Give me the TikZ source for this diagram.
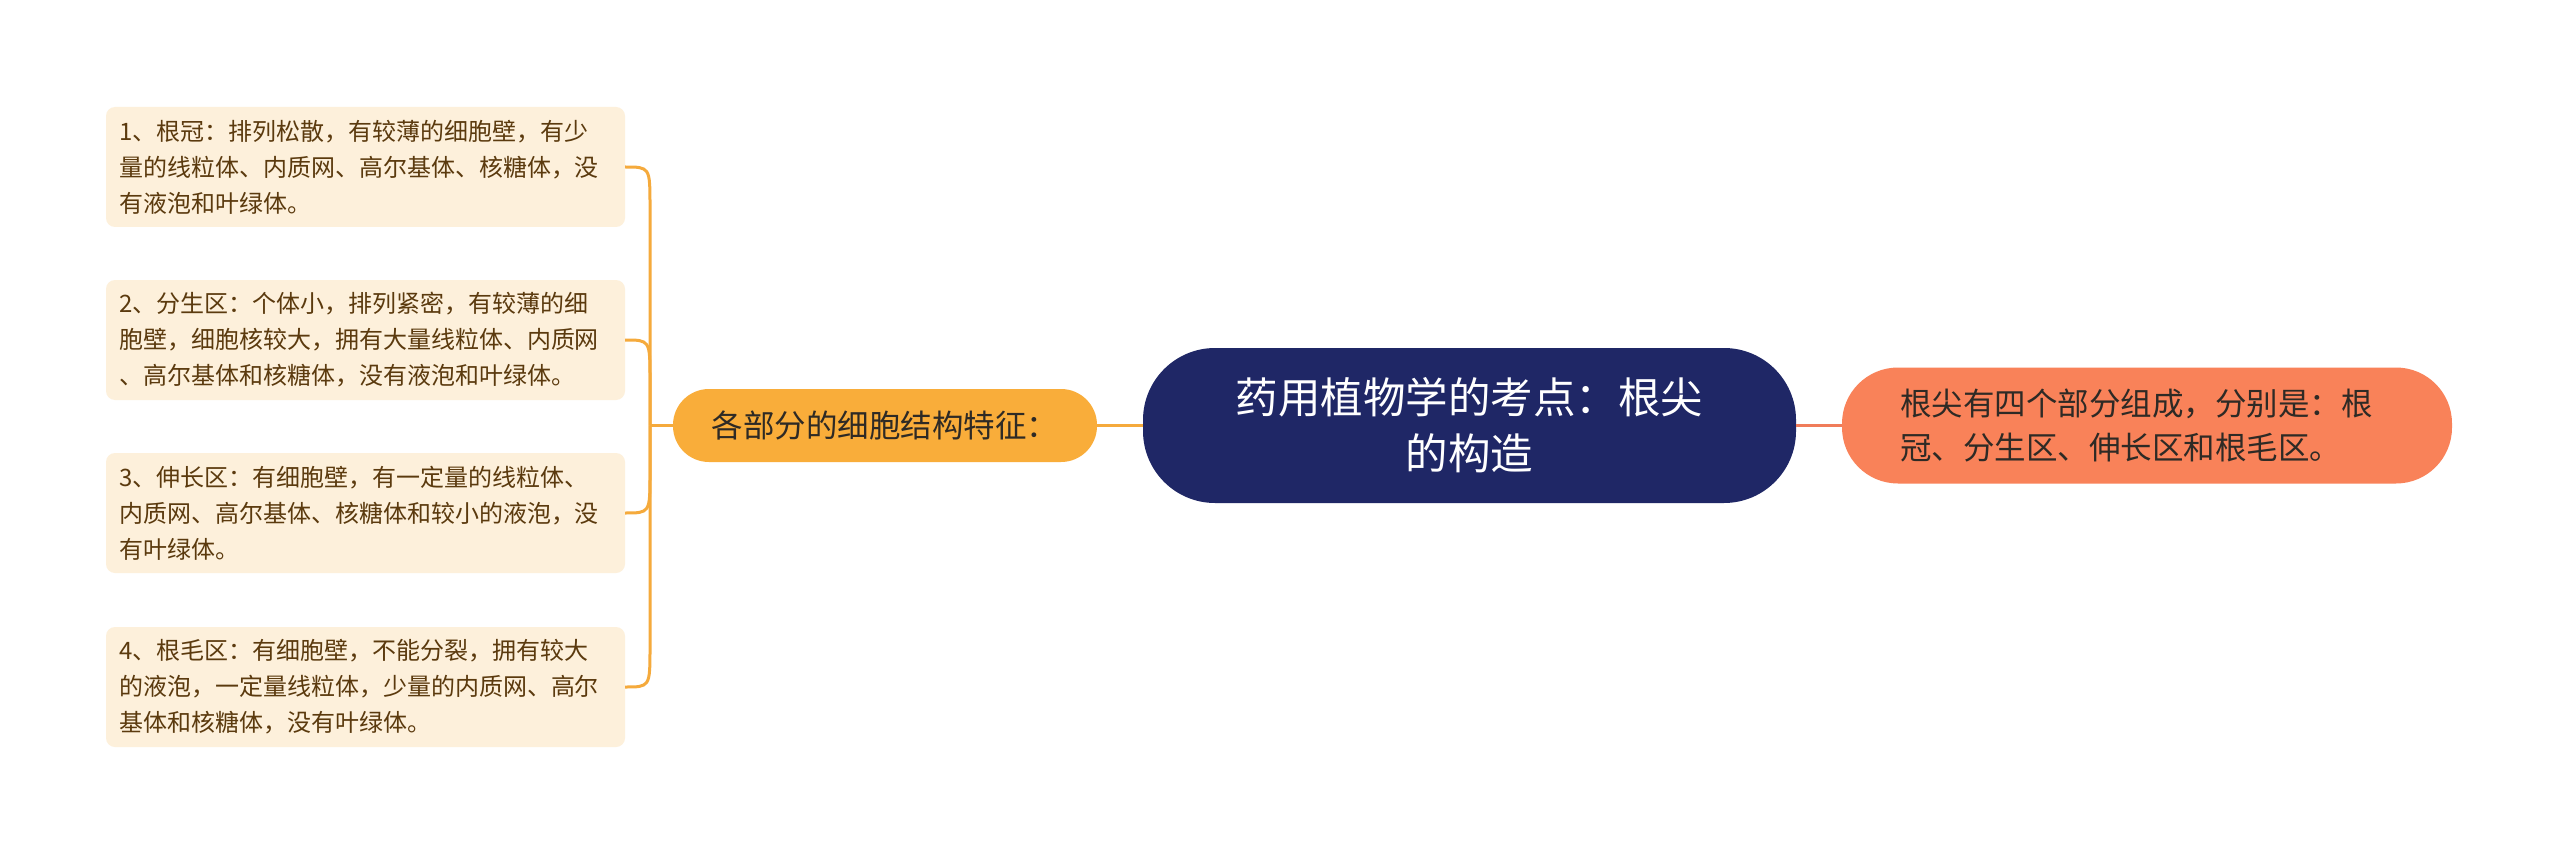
\documentclass[tikz,border=0pt]{standalone}
\usepackage{fontspec}
\setmainfont{Noto Sans CJK SC}
\usetikzlibrary{calc}
\definecolor{leaffill}{HTML}{FDF0DB}
\definecolor{leaftext}{HTML}{5B3A0E}
\definecolor{orangeline}{HTML}{F5AA3C}
\definecolor{hubfill}{HTML}{F9AD3A}
\definecolor{navy}{HTML}{1F2766}
\definecolor{coral}{HTML}{F98259}
\definecolor{coralline}{HTML}{F07C5A}
\definecolor{darktext}{HTML}{2E2A25}
\begin{document}
\begin{tikzpicture}[x=1pt,y=-1pt,
  leaf/.style={fill=leaffill, rounded corners=9pt, minimum width=519pt, minimum height=120pt,
    text width=493pt, align=left, inner sep=0pt, text=leaftext, font=\fontsize{24}{36}\selectfont},
  hubbox/.style={fill=hubfill, rounded corners=36pt, minimum width=424pt, minimum height=73pt,
    inner sep=0pt, align=center, text=darktext, font=\fontsize{31.5}{40}\selectfont},
  rootbox/.style={fill=navy, rounded corners=72pt, minimum width=653pt, minimum height=155pt,
    inner sep=0pt, align=center, text=white, font=\fontsize{42.5}{56}\selectfont},
  sidebox/.style={fill=coral, rounded corners=56pt, minimum width=610pt, minimum height=116pt,
    inner sep=0pt, text width=494pt, align=left, text=darktext, font=\fontsize{31.5}{44}\selectfont},
  conn/.style={draw=orangeline, line width=3pt},
  connr/.style={draw=coralline, line width=3pt}
]
\fill[white] (0,0) rectangle (2560,853);
\useasboundingbox (0,0) rectangle (2560,853);

\node[rootbox] (root) at (1469.5,425.5) {药用植物学的考点：根尖\\的构造};
\node[hubbox] (hub) at (885,425.5) {各部分的细胞结构特征：};
\node[sidebox] (side) at (2147,425.5) {根尖有四个部分组成，分别是：根\\冠、分生区、伸长区和根毛区。};

\node[leaf] (l1) at (365.5,167) {1、根冠：排列松散，有较薄的细胞壁，有少\\量的线粒体、内质网、高尔基体、核糖体，没\\有液泡和叶绿体。};
\node[leaf] (l2) at (365.5,340) {2、分生区：个体小，排列紧密，有较薄的细\\胞壁，细胞核较大，拥有大量线粒体、内质网\\、高尔基体和核糖体，没有液泡和叶绿体。};
\node[leaf] (l3) at (365.5,513) {3、伸长区：有细胞壁，有一定量的线粒体、\\内质网、高尔基体、核糖体和较小的液泡，没\\有叶绿体。};
\node[leaf] (l4) at (365.5,687) {4、根毛区：有细胞壁，不能分裂，拥有较大\\的液泡，一定量线粒体，少量的内质网、高尔\\基体和核糖体，没有叶绿体。};

\coordinate (j) at (650,425.5);
\draw[conn] (root.west) -- (hub.east);
\draw[connr] (root.east) -- (side.west);
\draw[conn] (hub.west) -- (j);
\draw[conn] (j) -- ($(j |- l1.east)+(0,40)$) .. controls (j |- l1.east) .. (l1.east);
\draw[conn] (j) -- ($(j |- l2.east)+(0,40)$) .. controls (j |- l2.east) .. (l2.east);
\draw[conn] (j) -- ($(j |- l3.east)+(0,-40)$) .. controls (j |- l3.east) .. (l3.east);
\draw[conn] (j) -- ($(j |- l4.east)+(0,-40)$) .. controls (j |- l4.east) .. (l4.east);
\end{tikzpicture}
\end{document}
